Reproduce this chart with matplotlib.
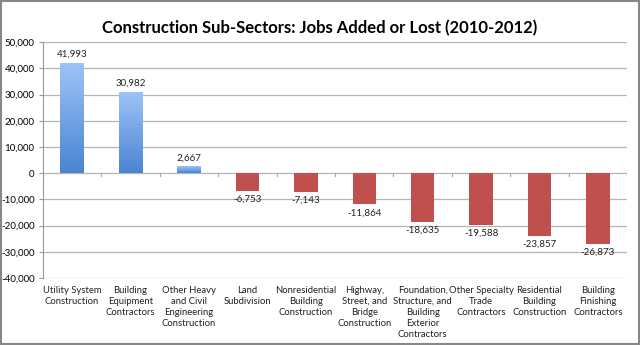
import matplotlib.pyplot as plt
import matplotlib.colors as mcolors
import numpy as np

# Jobs added or lost by construction sub-sector, 2010-2012
sectors = [
    "Utility System\nConstruction",
    "Building\nEquipment\nContractors",
    "Other Heavy\nand Civil\nEngineering\nConstruction",
    "Land\nSubdivision",
    "Nonresidential\nBuilding\nConstruction",
    "Highway,\nStreet, and\nBridge\nConstruction",
    "Foundation,\nStructure, and\nBuilding\nExterior\nContractors",
    "Other Specialty\nTrade\nContractors",
    "Residential\nBuilding\nConstruction",
    "Building\nFinishing\nContractors",
]
jobs_change = [41993, 30982, 2667, -6753, -7143, -11864, -18635, -19588, -23857, -26873]
y_ticks = [-40000, -30000, -20000, -10000, 0, 10000, 20000, 30000, 40000, 50000]

plt.rcParams["font.family"] = ["Lato", "DejaVu Sans"]

fig = plt.figure(figsize=(6.4, 3.45), dpi=100)
ax = fig.add_axes([0.067, 0.194, 0.913, 0.684])

x = np.arange(len(sectors))
bar_w = 0.4
bars = ax.bar(x, jobs_change, width=bar_w, zorder=3)

# blue gradient for gains, flat red for losses
blue_map = mcolors.LinearSegmentedColormap.from_list("gain", ["#4A84D2", "#9EC4F8"])
grad = np.linspace(0, 1, 256).reshape(-1, 1)
for b, v in zip(bars, jobs_change):
    if v > 0:
        b.set_facecolor("none")
        b.set_edgecolor("none")
        img = ax.imshow(grad, cmap=blue_map, origin="lower", aspect="auto",
                        extent=[b.get_x(), b.get_x() + b.get_width(), 0, v], zorder=3)
        img.set_clip_path(b)
    else:
        b.set_facecolor("#C0504D")
        b.set_edgecolor("none")

# value labels
for xi, v in zip(x, jobs_change):
    if v > 0:
        ax.text(xi, v + 1500, f"{v:,}", ha="center", va="bottom", fontsize=7, color="#222222")
    else:
        ax.text(xi, v - 1500, f"{v:,}", ha="center", va="top", fontsize=7, color="#222222")

ax.set_xlim(-0.5, len(sectors) - 0.5)
ax.set_ylim(-40000, 50000)
ax.set_yticks(y_ticks)
ax.set_yticklabels([f"{t:,}" for t in y_ticks], fontsize=7)
ax.yaxis.grid(True, color="#B5B5B5", linewidth=0.9, zorder=0)
ax.tick_params(axis="y", length=3, color="#999999", pad=3)

# category labels sit below the plot area; small ticks hang off the zero line
ax.set_xticks([])
for xi, name in zip(x, sectors):
    ax.text(xi, -43000, name, ha="center", va="top", fontsize=6.8,
            color="#222222", linespacing=1.3)
for xb in np.arange(-0.5, len(sectors)):
    ax.plot([xb, xb], [0, -1000], color="#AAAAAA", linewidth=0.9, zorder=2)

for side in ["top", "right", "bottom"]:
    ax.spines[side].set_visible(False)
ax.spines["left"].set_color("#999999")

fig.text(0.5, 0.918, "Construction Sub-Sectors: Jobs Added or Lost (2010-2012)",
         ha="center", va="center", fontsize=12, fontweight="bold")

# thin grey frame around the whole figure
fig.patches.append(plt.Rectangle((0.002, 0.003), 0.996, 0.994, transform=fig.transFigure,
                                 fill=False, edgecolor="#888888", linewidth=1.5))

plt.savefig("out.png", dpi=100)
